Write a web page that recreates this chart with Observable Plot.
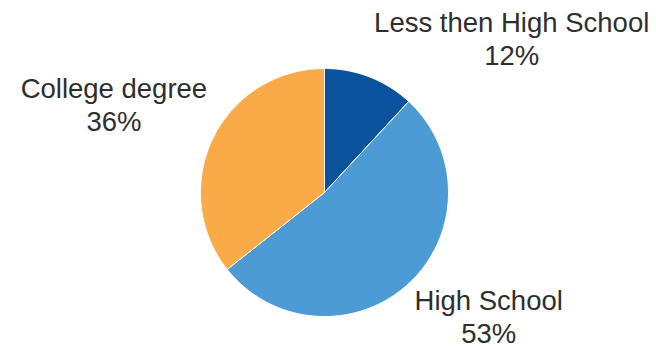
<!DOCTYPE html>
<html>
<head>
<meta charset="utf-8">
<script src="https://cdn.jsdelivr.net/npm/d3@7"></script>
<script src="https://cdn.jsdelivr.net/npm/@observablehq/plot@0.6"></script>
<style>
  html, body { margin: 0; padding: 0; background: #fff; }
</style>
</head>
<body>
<div id="chart"></div>
<script>
// ---- data ----
const categories = ["Less then High School", "High School", "College degree"];
const values = [12, 53, 36];
const percentLabels = ["12%", "53%", "36%"];
const colors = ["#0a539c", "#4d9bd5", "#fbaa48"];

// ---- layout (pixels) ----
const W = 656, H = 349;
const R = 124;
// offset of each label (bottom line baseline, centre) from the slice's outer mid point
const labelOffsets = [[142, 12], [80, -59], [-99, 7]];

const rows = categories.map((c, i) => ({category: c, value: values[i], pct: percentLabels[i], i}));
const arcs = d3.pie().sort(null).value(d => d.value).startAngle(0).endAngle(2 * Math.PI)(rows);

// polygon outline for each slice (centre -> arc -> centre)
const slicePts = [];
arcs.forEach(a => {
  const n = Math.max(2, Math.ceil((a.endAngle - a.startAngle) / (Math.PI / 360)));
  slicePts.push({category: a.data.category, x: 0, y: 0});
  for (let k = 0; k <= n; k++) {
    const t = a.startAngle + (a.endAngle - a.startAngle) * k / n;
    slicePts.push({category: a.data.category, x: R * Math.sin(t), y: R * Math.cos(t)});
  }
  slicePts.push({category: a.data.category, x: 0, y: 0});
});

const labels = arcs.map(a => {
  const m = (a.startAngle + a.endAngle) / 2;
  const [ox, oy] = labelOffsets[a.data.i];
  return {
    x: R * Math.sin(m) + ox,
    y: R * Math.cos(m) + oy,
    text: a.data.category + "\n" + a.data.pct
  };
});

const chart = Plot.plot({
  width: W,
  height: H,
  margin: 0,
  x: {domain: [-324, W - 324], axis: null},
  y: {domain: [-(H - 192), 192], axis: null},
  color: {domain: categories, range: colors},
  style: {fontFamily: "'Liberation Sans', Arial, sans-serif", background: "#fff"},
  marks: [
    Plot.line(slicePts, {x: "x", y: "y", z: "category", fill: "category", stroke: "#fff", strokeWidth: 1, strokeLinejoin: "round"}),
    Plot.text(labels, {x: "x", y: "y", text: "text", lineAnchor: "bottom", lineHeight: 1.2, fontSize: 27.5, fill: "#2e2e2e", textAnchor: "middle"})
  ]
});
document.getElementById("chart").appendChild(chart);
</script>
</body>
</html>
